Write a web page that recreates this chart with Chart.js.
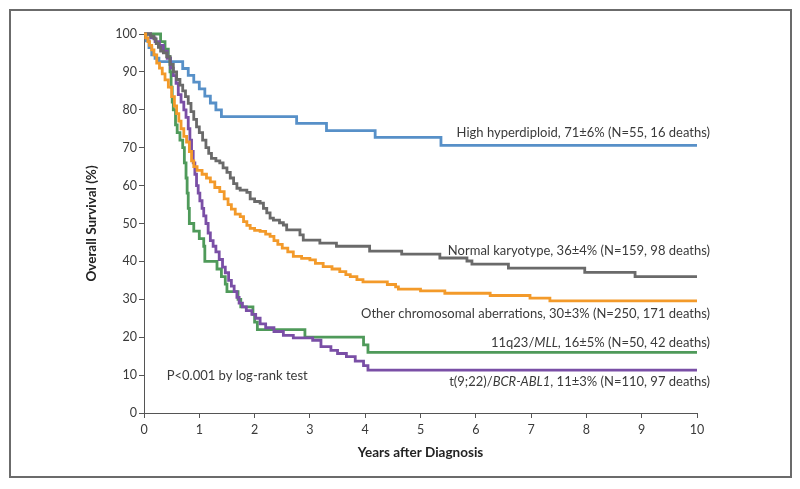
<!DOCTYPE html>
<html>
<head>
<meta charset="utf-8">
<script src="https://cdn.jsdelivr.net/npm/chart.js@4.4.1/dist/chart.umd.min.js"></script>
<style>
  html, body { margin: 0; padding: 0; background: #fff; }
  #wrap { width: 800px; height: 489px; position: relative; }
</style>
</head>
<body>
<div id="wrap"><canvas id="c" width="800" height="489"></canvas></div>
<script>
// ---- Data ----
// Each series: event times (years) and survival (%) right after that time
const hyperT = [0, 0.04, 0.09, 0.14, 0.2, 0.27, 0.7, 0.8, 0.9, 1.0, 1.1, 1.2, 1.3, 1.4, 2.76, 3.3, 4.18, 5.37, 10];
const hyperS = [100, 98.2, 96.4, 94.5, 93.6, 92.7, 90.9, 89.1, 87.3, 85.5, 83.6, 81.8, 80.0, 78.2, 76.4, 74.5, 72.7, 70.6, 70.6];

const normalT = [0, 0.12, 0.18, 0.22, 0.26, 0.3, 0.35, 0.41, 0.47, 0.53, 0.59, 0.65, 0.7, 0.75, 0.8, 0.85, 0.9, 0.95, 1.0, 1.06, 1.12, 1.17, 1.22, 1.3, 1.37, 1.43, 1.5, 1.56, 1.62, 1.68, 1.74, 1.86, 1.92, 2.0, 2.1, 2.16, 2.22, 2.28, 2.34, 2.45, 2.52, 2.58, 2.82, 2.88, 3.18, 3.48, 4.08, 4.66, 5.35, 5.84, 5.93, 6.59, 7.97, 8.88, 10];
const normalS = [100, 99.4, 98.7, 97.5, 96.5, 95.5, 95, 94, 92, 90, 88, 86.5, 85, 83.5, 81.7, 79.5, 77.5, 75.5, 74, 72, 70, 68.5, 67.2, 66.5, 66, 64.7, 63.5, 62, 60.5, 59.3, 58.8, 58.2, 56.5, 55.8, 55.4, 54, 52.8, 51.4, 50.9, 50.2, 49.6, 48.3, 47, 45.6, 44.8, 44.0, 42.7, 41.9, 40.9, 40.1, 39.3, 38.2, 37.1, 36.0, 36.0];

const otherT = [0, 0.03, 0.07, 0.1, 0.14, 0.18, 0.23, 0.28, 0.33, 0.38, 0.44, 0.5, 0.55, 0.59, 0.63, 0.67, 0.72, 0.77, 0.82, 0.86, 0.9, 0.96, 1.05, 1.13, 1.2, 1.28, 1.37, 1.45, 1.52, 1.58, 1.65, 1.74, 1.8, 1.86, 1.92, 2.0, 2.1, 2.2, 2.28, 2.35, 2.42, 2.5, 2.6, 2.7, 2.85, 3.0, 3.1, 3.24, 3.4, 3.54, 3.65, 3.73, 3.85, 3.96, 4.4, 4.55, 4.6, 5.0, 5.44, 6.26, 6.98, 7.34, 10];
const otherS = [100, 99, 98, 97, 95.8, 94.5, 92.3, 91, 89.5, 87.9, 86, 83.5, 81, 79, 77, 75, 73, 71.5, 69, 66.5, 65, 64, 63, 62, 61, 59.5, 58.4, 56.5, 55, 53.8, 52.5, 51.8, 50.5, 49.5, 48.7, 48.2, 47.9, 47.2, 46.6, 45.5, 44.5, 43.5, 42.5, 41.3, 40.8, 40.4, 39.5, 38.6, 38, 37.3, 36.5, 36, 35.2, 34.6, 33.9, 33.3, 32.7, 32.2, 31.6, 31.0, 30.3, 29.6, 29.6];

const mllT = [0, 0.3, 0.38, 0.44, 0.47, 0.49, 0.51, 0.53, 0.57, 0.6, 0.65, 0.7, 0.73, 0.76, 0.78, 0.8, 0.82, 0.9, 1.0, 1.08, 1.1, 1.32, 1.4, 1.47, 1.5, 1.7, 1.75, 1.97, 2.0, 2.05, 2.91, 3.97, 4.05, 10];
const mllS = [100, 98, 96, 94, 90, 86, 82, 80, 76, 74, 72, 70, 66, 62, 58, 54, 50, 48, 46, 44, 40, 38, 36, 34, 32, 30, 28, 26, 24, 22, 20, 18, 16, 16];

const bcrT = [0, 0.12, 0.2, 0.28, 0.35, 0.42, 0.48, 0.53, 0.58, 0.62, 0.67, 0.72, 0.76, 0.8, 0.83, 0.86, 0.89, 0.92, 0.95, 0.98, 1.01, 1.05, 1.08, 1.12, 1.16, 1.2, 1.25, 1.3, 1.36, 1.42, 1.47, 1.53, 1.58, 1.63, 1.68, 1.72, 1.78, 1.85, 1.95, 2.02, 2.1, 2.2, 2.35, 2.52, 2.7, 3.05, 3.2, 3.38, 3.5, 3.66, 3.82, 3.97, 4.05, 10];
const bcrS = [100, 99, 98, 97, 95.5, 93.6, 91, 89, 87, 84, 82, 80, 78, 75, 72, 69, 66, 63, 60, 58, 56, 54, 52, 50, 47.5, 45.5, 44, 42.5, 40.5, 38.5, 37, 35, 33.5, 32, 30.5, 29, 28, 27, 26, 25, 23.5, 22.5, 21.5, 20.5, 19.8, 19.2, 17.5, 16.5, 15.7, 14.9, 13.7, 12.5, 11.3, 11.3];

const xTicks = [0, 1, 2, 3, 4, 5, 6, 7, 8, 9, 10];
const yTicks = [0, 10, 20, 30, 40, 50, 60, 70, 80, 90, 100];

const seriesNames = ['High hyperdiploid', 'Normal karyotype', 'Other chromosomal aberrations', '11q23/MLL', 't(9;22)/BCR-ABL1'];
const seriesColors = ['#5790c8', '#6a6a6a', '#f39a2a', '#4f9a5a', '#7a4fa6'];

// Curve annotations: text segments [text, italic]
const curveLabels = [
  [['High hyperdiploid, 71\u00b16% (N=55, 16 deaths)', false]],
  [['Normal karyotype, 36\u00b14% (N=159, 98 deaths)', false]],
  [['Other chromosomal aberrations, 30\u00b13% (N=250, 171 deaths)', false]],
  [['11q23/', false], ['MLL', true], [', 16\u00b15% (N=50, 42 deaths)', false]],
  [['t(9;22)/', false], ['BCR-ABL1', true], [', 11\u00b13% (N=110, 97 deaths)', false]]
];
const pText = 'P<0.001 by log-rank test';

// ---- Build chart ----
function pts(T, S) { return T.map((t, i) => ({ x: t, y: S[i] })); }
const allT = [hyperT, normalT, otherT, mllT, bcrT];
const allS = [hyperS, normalS, otherS, mllS, bcrS];
const drawOrder = [2, 1, 4, 3, 0];

const FONT = 'Lato, "Open Sans", sans-serif';
const TEXT_COLOR = '#3a3a3a';

const datasets = drawOrder.map(i => ({
  label: seriesNames[i],
  data: pts(allT[i], allS[i]),
  borderColor: seriesColors[i],
  backgroundColor: seriesColors[i],
  borderWidth: 2.8,
  stepped: 'before',
  pointRadius: 0,
  fill: false,
  clip: false,
  order: 0
}));

const labelAnchors = [73.9, 42.8, 26.3, 18.6, 8.3];

const framePlugin = {
  id: 'frame',
  beforeDraw(chart) {
    const ctx = chart.ctx;
    ctx.save();
    ctx.fillStyle = '#ffffff';
    ctx.fillRect(0, 0, chart.width, chart.height);
    ctx.strokeStyle = '#6b6b6b';
    ctx.lineWidth = 2;
    ctx.strokeRect(10, 10, 781, 467);
    ctx.restore();
  }
};

const labelPlugin = {
  id: 'curveLabels',
  afterDatasetsDraw(chart) {
    const ctx = chart.ctx;
    const xs = chart.scales.x, ys = chart.scales.y;
    ctx.save();
    ctx.fillStyle = TEXT_COLOR;
    ctx.textBaseline = 'middle';
    ctx.textAlign = 'left';
    const size = 13;
    const rightX = xs.getPixelForValue(10) + 13;
    curveLabels.forEach((segs, k) => {
      let total = 0;
      segs.forEach(([t, it]) => { ctx.font = (it ? 'italic ' : '') + size + 'px ' + FONT; total += ctx.measureText(t).width; });
      let x = rightX - total;
      const y = ys.getPixelForValue(labelAnchors[k]);
      segs.forEach(([t, it]) => {
        ctx.font = (it ? 'italic ' : '') + size + 'px ' + FONT;
        ctx.fillText(t, x, y);
        x += ctx.measureText(t).width;
      });
    });
    ctx.font = size + 'px ' + FONT;
    ctx.fillText(pText, xs.getPixelForValue(0.41), ys.getPixelForValue(9.8));
    ctx.restore();
  }
};

new Chart(document.getElementById('c'), {
  type: 'line',
  data: { datasets },
  options: {
    responsive: false,
    animation: false,
    layout: { padding: { left: 0, right: 103, top: 34, bottom: 0 } },
    plugins: { legend: { display: false }, tooltip: { enabled: false } },
    scales: {
      x: {
        type: 'linear',
        min: 0, max: 10,
        afterBuildTicks(s) { s.ticks = xTicks.map(v => ({ value: v })); },
        afterFit(s) { s.height = 76; },
        border: { display: true, color: '#555', width: 1 },
        grid: { display: true, drawOnChartArea: false, drawTicks: true, tickLength: 5, color: '#555' },
        ticks: { color: TEXT_COLOR, font: { family: FONT, size: 12.5 }, padding: 4, maxRotation: 0 },
        title: { display: true, text: 'Years after Diagnosis', color: '#222', font: { family: FONT, size: 13.5, weight: 'bold' }, padding: { top: 0, bottom: 28 } }
      },
      y: {
        type: 'linear',
        min: 0, max: 100,
        afterBuildTicks(s) { s.ticks = yTicks.map(v => ({ value: v })); },
        afterFit(s) { s.width = 144; },
        border: { display: true, color: '#555', width: 1 },
        grid: { display: true, drawOnChartArea: false, drawTicks: true, tickLength: 5, color: '#555' },
        ticks: { color: TEXT_COLOR, font: { family: FONT, size: 12.5 }, padding: 2 },
        title: { display: true, text: 'Overall Survival (%)', color: '#222', font: { family: FONT, size: 13.5, weight: 'bold' }, padding: { top: 84, bottom: 0 } }
      }
    }
  },
  plugins: [framePlugin, labelPlugin]
});
</script>
</body>
</html>
